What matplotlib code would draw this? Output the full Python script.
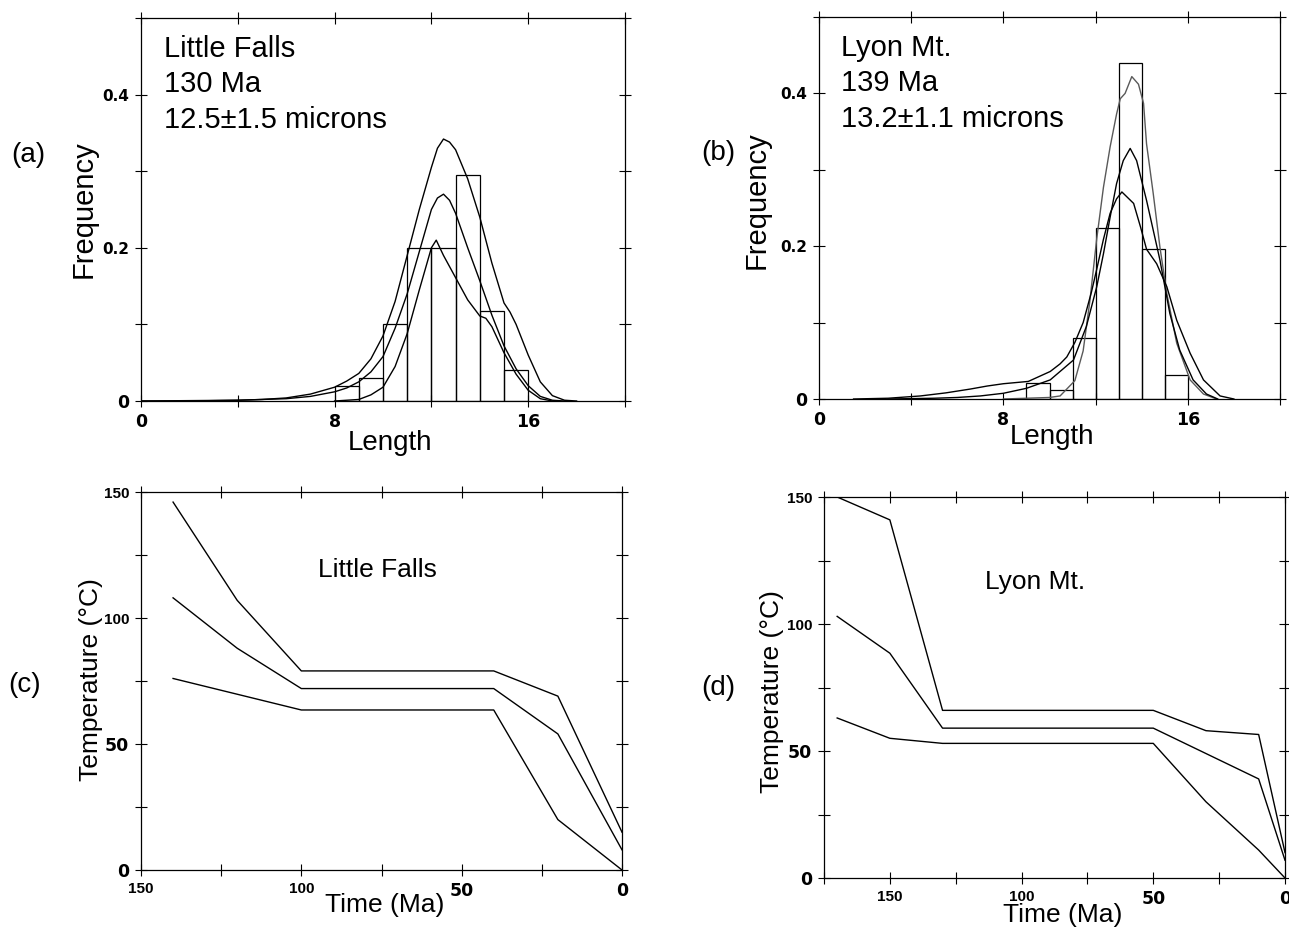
import matplotlib
matplotlib.use("Agg")
import matplotlib.pyplot as plt
from matplotlib.ticker import FixedLocator, FuncFormatter

plt.rcParams['font.family'] = ['Liberation Sans', 'DejaVu Sans']

# ---------------- data ----------------
# (a) Little Falls length histogram
a_bin_left = [8, 9, 10, 11, 12, 13, 14, 15]
a_bin_height = [0.02, 0.03, 0.10, 0.20, 0.20, 0.295, 0.118, 0.04]

a_upper_x = [0, 2, 4, 5, 6, 7, 8, 8.5, 9, 9.5, 10, 10.5, 11, 11.5, 12, 12.25, 12.5, 12.75,
             13, 13.5, 14, 14.5, 15, 15.25, 15.5, 16, 16.5, 17, 17.5, 18]
a_upper_y = [0, 0, 0.001, 0.002, 0.004, 0.009, 0.018, 0.026, 0.036, 0.055, 0.085, 0.13, 0.19,
             0.25, 0.305, 0.33, 0.342, 0.338, 0.328, 0.29, 0.24, 0.18, 0.128, 0.116, 0.1,
             0.06, 0.025, 0.007, 0.001, 0]
a_mid_x = [0, 4, 6, 7, 8, 8.5, 9, 9.5, 10, 10.5, 11, 11.5, 12, 12.25, 12.5, 12.75, 13, 13.5,
           14, 14.5, 15, 15.5, 16, 16.5, 17, 17.5]
a_mid_y = [0, 0.001, 0.003, 0.006, 0.012, 0.017, 0.025, 0.038, 0.058, 0.095, 0.14, 0.195,
           0.25, 0.265, 0.27, 0.262, 0.245, 0.2, 0.157, 0.112, 0.072, 0.042, 0.02, 0.006, 0.001, 0]
a_low_x = [8, 9, 9.5, 10, 10.5, 11, 11.5, 12, 12.2, 12.5, 13, 13.5, 14, 14.25, 14.5, 15,
           15.5, 16, 16.5, 17]
a_low_y = [0, 0.002, 0.008, 0.018, 0.045, 0.088, 0.145, 0.2, 0.21, 0.19, 0.161, 0.132,
           0.111, 0.108, 0.097, 0.063, 0.035, 0.014, 0.003, 0]

# (b) Lyon Mt. length histogram
b_bin_left = [9, 10, 11, 12, 13, 14, 15]
b_bin_height = [0.021, 0.012, 0.08, 0.224, 0.44, 0.196, 0.031]

b_upper_x = [8, 9, 10, 10.46, 11.1, 11.46, 11.75, 12.05, 12.34, 12.63, 12.91, 13.07, 13.28,
             13.57, 13.86, 14.08, 14.21, 14.5, 14.79, 15.09, 15.52, 16.1, 16.68, 17.25]
b_upper_y = [0, 0.001, 0.002, 0.004, 0.024, 0.063, 0.128, 0.21, 0.277, 0.33, 0.373, 0.393,
             0.4, 0.422, 0.412, 0.387, 0.334, 0.269, 0.199, 0.138, 0.073, 0.025, 0.0065, 0]
b_mid_x = [3, 5, 6, 7, 8, 9, 10.03, 11.04, 11.6, 12.05, 12.34, 12.63, 12.91, 13.2, 13.5,
           13.78, 14.21, 14.79, 15.22, 15.65, 16.23, 16.81, 17.3]
b_mid_y = [0, 0.001, 0.002, 0.004, 0.0075, 0.014, 0.025, 0.051, 0.095, 0.147, 0.19, 0.238,
           0.282, 0.312, 0.328, 0.312, 0.26, 0.182, 0.112, 0.064, 0.025, 0.0065, 0]
b_low_x = [1.5, 3, 4.4, 5.5, 6.56, 7.3, 8.0, 9.08, 10.03, 10.46, 10.75, 11.1, 11.46, 11.82,
           12.05, 12.34, 12.63, 12.91, 13.14, 13.65, 13.95, 14.21, 14.65, 15.09, 15.52, 16.1,
           16.68, 17.4, 18]
b_low_y = [0, 0.001, 0.004, 0.008, 0.013, 0.017, 0.02, 0.023, 0.036, 0.046, 0.055, 0.074,
           0.1, 0.14, 0.17, 0.209, 0.243, 0.262, 0.271, 0.256, 0.225, 0.196, 0.177, 0.147,
           0.103, 0.06, 0.025, 0.004, 0]

# (c) Little Falls time-temperature paths
c_upper_t = [140, 120, 100, 40, 20, 0]
c_upper_T = [146, 107, 79, 79, 69, 15]
c_mid_t = [140, 120, 100, 40, 20, 0]
c_mid_T = [108, 88, 72, 72, 54, 8]
c_low_t = [140, 100, 40, 20, 0]
c_low_T = [76, 63.5, 63.5, 20, 0]

# (d) Lyon Mt. time-temperature paths
d_upper_t = [170, 150, 130, 50, 30, 10, 0]
d_upper_T = [150, 141, 66, 66, 58, 56.5, 10]
d_mid_t = [170, 150, 130, 50, 30, 10, 0]
d_mid_T = [103, 88.5, 59, 59, 49, 39, 7]
d_low_t = [170, 150, 130, 50, 30, 10, 0]
d_low_T = [63, 55, 53, 53, 30, 11, 0]

# ---------------- figure ----------------
W, H = 1289, 932
fig = plt.figure(figsize=(W / 100, H / 100), dpi=100)


def box(l, r, t, b):
    return [l / W, 1 - b / H, (r - l) / W, (b - t) / H]


ax_a = fig.add_axes(box(141, 625, 18, 401))
ax_b = fig.add_axes(box(819, 1280, 17, 399))
ax_c = fig.add_axes(box(141, 622, 492, 870))
ax_d = fig.add_axes(box(824, 1285, 497, 878))

LW = 1.0
WIDE = ['DejaVu Sans']
NARROW = ['Liberation Sans', 'DejaVu Sans']


def style(ax):
    for s in ax.spines.values():
        s.set_linewidth(0.9)
        s.set_color('black')
    ax.tick_params(which='both', direction='inout', length=9, width=0.8,
                   top=True, right=True, pad=4)


def set_tick_fonts(ax):
    for lab in ax.get_xticklabels() + ax.get_yticklabels():
        txt = lab.get_text()
        lab.set_fontweight('bold')
        if len(txt) >= 3 and '.' not in txt:
            lab.set_family(NARROW)
            lab.set_fontsize(11)
        elif '.' in txt:
            lab.set_family(WIDE)
            lab.set_fontsize(11)
        else:
            lab.set_family(WIDE)
            lab.set_fontsize(12.5)


# ---- histograms ----
def hist_panel(ax, bl, bh, curves, text):
    ax.bar(bl, bh, width=1, align='edge', fill=False, edgecolor='black', linewidth=0.9)
    for x, y, c in curves:
        ax.plot(x, y, color=c, lw=LW)
    ax.set_xlim(0, 20)
    ax.set_ylim(0, 0.5)
    ax.xaxis.set_major_locator(FixedLocator([0, 4, 8, 12, 16, 20]))
    ax.xaxis.set_major_formatter(FuncFormatter(
        lambda v, p: f"{v:.0f}" if round(v) in (0, 8, 16) else ""))
    ax.yaxis.set_major_locator(FixedLocator([0, 0.1, 0.2, 0.3, 0.4, 0.5]))
    ax.yaxis.set_major_formatter(FuncFormatter(
        lambda v, p: "0" if abs(v) < 1e-9 else (f"{v:.1f}" if round(v * 10) in (2, 4) else "")))
    style(ax)
    set_tick_fonts(ax)
    ax.text(0.048, 0.955, text, transform=ax.transAxes, ha='left', va='top',
            fontsize=21, linespacing=1.33)
    ax.set_xlabel("Length", fontsize=20)
    ax.set_ylabel("Frequency", fontsize=21)


hist_panel(ax_a, a_bin_left, a_bin_height,
           [(a_upper_x, a_upper_y, 'black'), (a_mid_x, a_mid_y, 'black'),
            (a_low_x, a_low_y, 'black')],
           "Little Falls\n130 Ma\n12.5\u00b11.5 microns")
ax_a.xaxis.set_label_coords(0.514, -0.11)
ax_a.xaxis.label.set_va('center')
ax_a.yaxis.set_label_coords(-0.118, 0.5)
ax_a.yaxis.label.set_va('center')

hist_panel(ax_b, b_bin_left, b_bin_height,
           [(b_upper_x, b_upper_y, '0.35'), (b_mid_x, b_mid_y, 'black'),
            (b_low_x, b_low_y, 'black')],
           "Lyon Mt.\n139 Ma\n13.2\u00b11.1 microns")
ax_b.xaxis.set_label_coords(0.505, -0.10)
ax_b.xaxis.label.set_va('center')
ax_b.yaxis.set_label_coords(-0.136, 0.52)
ax_b.yaxis.label.set_va('center')


# ---- T-t paths ----
def tt_panel(ax, paths, xmax, title, tpos):
    for t, T in paths:
        ax.plot(t, T, color='black', lw=LW)
    ax.set_xlim(xmax, 0)
    ax.set_ylim(0, 150)
    xt = [v for v in [175, 150, 125, 100, 75, 50, 25, 0] if v <= xmax]
    ax.xaxis.set_major_locator(FixedLocator(xt))
    ax.xaxis.set_major_formatter(FuncFormatter(
        lambda v, p: f"{v:.0f}" if round(v) in (150, 100, 50, 0) else ""))
    ax.yaxis.set_major_locator(FixedLocator([0, 25, 50, 75, 100, 125, 150]))
    ax.yaxis.set_major_formatter(FuncFormatter(
        lambda v, p: f"{v:.0f}" if round(v) in (150, 100, 50, 0) else ""))
    style(ax)
    set_tick_fonts(ax)
    ax.text(tpos[0], tpos[1], title, transform=ax.transAxes, ha='left', va='center',
            fontsize=19)
    ax.set_xlabel("Time (Ma)", fontsize=19)
    ax.set_ylabel("Temperature (\u00b0C)", fontsize=19)


tt_panel(ax_c, [(c_upper_t, c_upper_T), (c_mid_t, c_mid_T), (c_low_t, c_low_T)],
         150, "Little Falls", (0.368, 0.794))
ax_c.xaxis.set_label_coords(0.507, -0.093)
ax_c.xaxis.label.set_va('center')
ax_c.yaxis.set_label_coords(-0.104, 0.503)
ax_c.yaxis.label.set_va('center')

tt_panel(ax_d, [(d_upper_t, d_upper_T), (d_mid_t, d_mid_T), (d_low_t, d_low_T)],
         175, "Lyon Mt.", (0.35, 0.777))
ax_d.xaxis.set_label_coords(0.518, -0.097)
ax_d.xaxis.label.set_va('center')
ax_d.yaxis.set_label_coords(-0.113, 0.49)
ax_d.yaxis.label.set_va('center')

# panel letters
for lbl, (px, py) in {"(a)": (28, 155), "(b)": (718, 153),
                      "(c)": (25, 685), "(d)": (718, 688)}.items():
    fig.text(px / W, 1 - py / H, lbl, ha='center', va='center', fontsize=20)

fig.savefig("out.png", dpi=100)
